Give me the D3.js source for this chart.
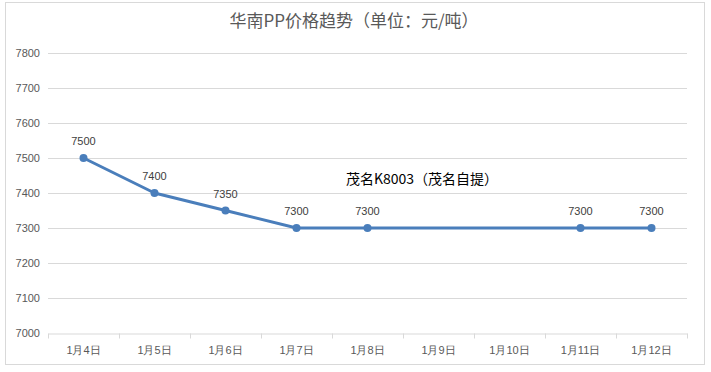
<!DOCTYPE html>
<html>
<head>
<meta charset="utf-8">
<script src="https://cdn.jsdelivr.net/npm/d3@7"></script>
<style>
  body { margin: 0; background: #fff; }
  svg { display: block; font-family: "Noto Sans CJK SC", "Liberation Sans", sans-serif; }
</style>
</head>
<body>
<script>
// chart data
var categories = ["1月4日", "1月5日", "1月6日", "1月7日", "1月8日", "1月9日", "1月10日", "1月11日", "1月12日"];
var prices = [7500, 7400, 7350, 7300, 7300, null, null, 7300, 7300];
var yTicks = [7000, 7100, 7200, 7300, 7400, 7500, 7600, 7700, 7800];
var seriesName = "茂名K8003（茂名自提）";
var title = "华南PP价格趋势（单位：元/吨）";

var W = 711, H = 372;
var margin = {top: 53, right: 24, bottom: 39, left: 48},
    width = 687 - margin.left,
    height = 333 - margin.top;

var svg = d3.select("body").append("svg")
    .attr("width", W)
    .attr("height", H);

// outer chart border
svg.append("rect")
    .attr("x", 5.5).attr("y", 2.5)
    .attr("width", 699).attr("height", 362)
    .attr("fill", "#fff")
    .attr("stroke", "#d9d9d9");

svg.append("text")
    .attr("x", 354).attr("y", 27)
    .attr("text-anchor", "middle")
    .attr("fill", "#595959")
    .style("font-size", "17px")
    .text(title);

var g = svg.append("g")
    .attr("transform", "translate(" + margin.left + "," + margin.top + ")");

var x = d3.scaleBand().domain(categories).range([0, width]);
var y = d3.scaleLinear().domain([7000, 7800]).range([height, 0]);

// gridlines
g.append("g")
    .selectAll("line")
    .data(yTicks.slice(1))
    .enter().append("line")
    .attr("x1", 0).attr("x2", width)
    .attr("y1", function(d) { return Math.round(y(d)) + 0.5; })
    .attr("y2", function(d) { return Math.round(y(d)) + 0.5; })
    .attr("stroke", "#d9d9d9");

// y axis labels
var yAxis = g.append("g")
    .call(d3.axisLeft(y).tickValues(yTicks).tickFormat(d3.format("d")).tickSize(0).tickPadding(8));
yAxis.select(".domain").remove();
yAxis.selectAll("text")
    .attr("fill", "#595959")
    .style("font-family", "'Liberation Sans', sans-serif")
    .style("font-size", "11px");

// x axis
var xAxis = g.append("g")
    .attr("transform", "translate(0," + (height + 0.5) + ")")
    .call(d3.axisBottom(x).tickSize(0).tickPadding(13));
xAxis.select(".domain").attr("stroke", "#d9d9d9");
xAxis.selectAll("text")
    .attr("fill", "#595959")
    .style("font-size", "11px");
// tick marks on band edges
xAxis.selectAll(".edge")
    .data(categories.concat(["end"]))
    .enter().append("line")
    .attr("class", "edge")
    .attr("x1", function(d, i) { return Math.round(i * x.step()) + 0.5; })
    .attr("x2", function(d, i) { return Math.round(i * x.step()) + 0.5; })
    .attr("y1", 0).attr("y2", 5)
    .attr("stroke", "#d9d9d9");

var points = categories.map(function(c, i) { return {cat: c, value: prices[i]}; })
    .filter(function(d) { return d.value != null; });

var line = d3.line()
    .x(function(d) { return x(d.cat) + x.bandwidth() / 2; })
    .y(function(d) { return y(d.value); });

g.append("path")
    .datum(points)
    .attr("d", line)
    .attr("fill", "none")
    .attr("stroke", "#4a7ebb")
    .attr("stroke-width", 3)
    .attr("stroke-linejoin", "round");

g.selectAll(".dot")
    .data(points)
    .enter().append("circle")
    .attr("class", "dot")
    .attr("cx", function(d) { return x(d.cat) + x.bandwidth() / 2; })
    .attr("cy", function(d) { return y(d.value); })
    .attr("r", 4)
    .attr("fill", "#4a7ebb");

g.selectAll(".lbl")
    .data(points)
    .enter().append("text")
    .attr("class", "lbl")
    .attr("x", function(d) { return x(d.cat) + x.bandwidth() / 2; })
    .attr("y", function(d) { return y(d.value) - 13; })
    .attr("text-anchor", "middle")
    .attr("fill", "#404040")
    .style("font-family", "'Liberation Sans', sans-serif")
    .style("font-size", "11px")
    .text(function(d) { return d.value; });

// series label
g.append("text")
    .attr("x", x("1月8日") + 14)
    .attr("y", y(7450) + 8)
    .attr("fill", "#000")
    .style("font-size", "14px")
    .text(seriesName);
</script>
</body>
</html>
